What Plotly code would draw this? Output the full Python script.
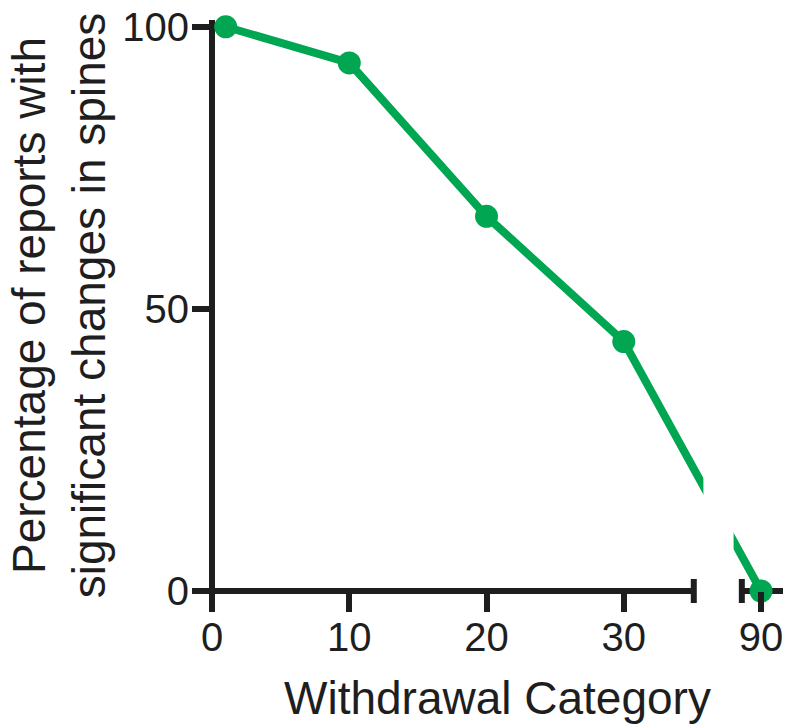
import plotly.graph_objects as go

# ---- data ----
categories = [1, 10, 20, 30, 90]          # withdrawal category (days)
percent = [100, 93.6, 66.4, 44.2, 0]      # % reports with significant spine changes
x_tick_values = [0, 10, 20, 30, 90]
x_tick_labels = ["0", "10", "20", "30", "90"]
y_tick_values = [0, 50, 100]
y_tick_labels = ["0", "50", "100"]

# ---- broken x axis settings ----
BREAK_LO = 35.1     # first axis segment ends here (actual units)
BREAK_HI = 88.6     # second axis segment starts here (actual units)
X_END = 91.6        # end of second axis segment
GAP = 50            # span removed by the break


def tx(v):
    return v if v <= BREAK_LO else v - GAP


XMIN, XMAX = 0, tx(X_END)
YMIN, YMAX = 0, 101.2


def px(v):
    return (tx(v) - XMIN) / (XMAX - XMIN)


GREEN = "#00A651"
INK = "#1e1e1e"
FONT = "Liberation Sans, Arial, sans-serif"

W, H = 787, 728
L, R, T, B = 212, 4, 20, 137
plot_h = H - T - B

xt = [tx(v) for v in categories]

fig = go.Figure()
fig.add_trace(go.Scatter(
    x=xt, y=percent, mode="lines+markers",
    line=dict(color=GREEN, width=8),
    marker=dict(color=GREEN, size=23),
    cliponaxis=False, showlegend=False, hoverinfo="skip",
))

lw = 6
bar = 12 / plot_h
shapes = [
    # y axis line
    dict(type="line", xref="paper", yref="paper", x0=0, x1=0, y0=-3 / plot_h, y1=1,
         line=dict(color=INK, width=lw), layer="below"),
    # x axis segment 1
    dict(type="line", xref="paper", yref="paper", x0=px(0), x1=px(BREAK_LO), y0=0, y1=0,
         line=dict(color=INK, width=lw), layer="below"),
    # x axis segment 2
    dict(type="line", xref="paper", yref="paper", x0=px(BREAK_HI), x1=px(X_END), y0=0, y1=0,
         line=dict(color=INK, width=lw), layer="below"),
    # break bars
    dict(type="line", xref="paper", yref="paper", x0=px(BREAK_LO), x1=px(BREAK_LO), y0=-bar, y1=bar,
         line=dict(color=INK, width=lw), layer="below"),
    dict(type="line", xref="paper", yref="paper", x0=px(BREAK_HI), x1=px(BREAK_HI), y0=-bar, y1=bar,
         line=dict(color=INK, width=lw), layer="below"),
    # gap in the data line across the break
    dict(type="rect", xref="paper", yref="paper", x0=35.8 / XMAX, x1=38.0 / XMAX, y0=0.035, y1=1,
         fillcolor="white", line=dict(width=0), layer="above"),
]

annotations = [
    dict(text="Withdrawal Category", xref="paper", yref="paper", x=0.5, y=0,
         xanchor="center", yanchor="top", yshift=-79, showarrow=False,
         font=dict(size=46, family=FONT, color=INK)),
]

fig.update_layout(
    width=W, height=H,
    margin=dict(l=L, r=R, t=T, b=B, autoexpand=False),
    paper_bgcolor="white", plot_bgcolor="white",
    font=dict(family=FONT, color=INK),
    shapes=shapes,
    annotations=annotations,
    xaxis=dict(
        range=[XMIN, XMAX], showgrid=False, zeroline=False, showline=False,
        tickmode="array", tickvals=[tx(v) for v in x_tick_values], ticktext=x_tick_labels,
        ticks="outside", ticklen=20, tickwidth=lw, tickcolor=INK,
        ticklabelstandoff=-9, ticklabeloverflow="allow",
        tickfont=dict(size=40, family=FONT, color=INK),
        automargin=False,
    ),
    yaxis=dict(
        range=[YMIN, YMAX], showgrid=False, zeroline=False, showline=False,
        tickmode="array", tickvals=y_tick_values, ticktext=y_tick_labels,
        ticks="outside", ticklen=19, tickwidth=lw, tickcolor=INK,
        ticklabelstandoff=-5, ticklabeloverflow="allow",
        tickfont=dict(size=40, family=FONT, color=INK),
        title=dict(text="Percentage of reports with<br>significant changes in spines",
                   font=dict(size=46, family=FONT, color=INK), standoff=2),
        automargin=False,
    ),
)

# remove the default 8px page margin so the 787x728 figure fills the window exactly
fig.write_html("out.html", config={"displayModeBar": False},
               post_script="document.body.style.margin='0';")
